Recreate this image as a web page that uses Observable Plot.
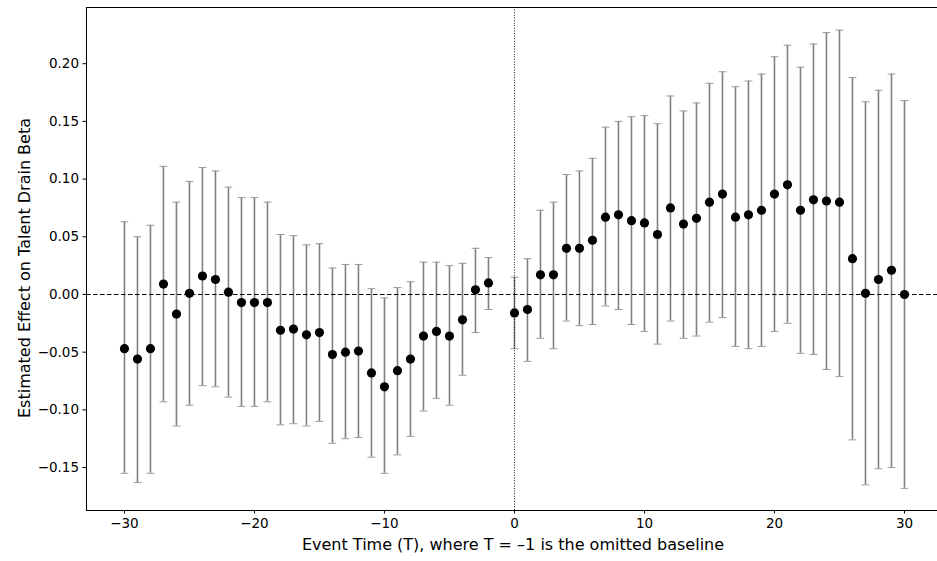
<!DOCTYPE html>
<html><head><meta charset="utf-8">
<script src="https://cdn.jsdelivr.net/npm/d3@7"></script>
<script src="https://cdn.jsdelivr.net/npm/@observablehq/plot@0.6"></script>
<style>body{margin:0;background:#fff;overflow:hidden}</style>
</head><body><div id="chart"></div>
<script>
const eventTime = [-30,-29,-28,-27,-26,-25,-24,-23,-22,-21,-20,-19,-18,-17,-16,-15,-14,-13,-12,-11,-10,-9,-8,-7,-6,-5,-4,-3,-2,
  0,1,2,3,4,5,6,7,8,9,10,11,12,13,14,15,16,17,18,19,20,21,22,23,24,25,26,27,28,29,30];
const estimate = [-0.047,-0.056,-0.047,0.009,-0.017,0.001,0.016,0.013,0.002,-0.007,-0.007,-0.007,-0.031,-0.030,-0.035,-0.033,-0.052,-0.050,-0.049,-0.068,-0.080,-0.066,-0.056,-0.036,-0.032,-0.036,-0.022,0.004,0.010,
  -0.016,-0.013,0.017,0.017,0.040,0.040,0.047,0.067,0.069,0.064,0.062,0.052,0.075,0.061,0.066,0.080,0.087,0.067,0.069,0.073,0.087,0.095,0.073,0.082,0.081,0.080,0.031,0.001,0.013,0.021,0.000];
const ciLow = [-0.155,-0.163,-0.155,-0.093,-0.114,-0.096,-0.079,-0.080,-0.089,-0.097,-0.097,-0.093,-0.113,-0.112,-0.114,-0.110,-0.129,-0.125,-0.124,-0.141,-0.155,-0.139,-0.123,-0.101,-0.090,-0.096,-0.070,-0.033,-0.013,
  -0.047,-0.058,-0.038,-0.047,-0.023,-0.027,-0.026,-0.010,-0.013,-0.026,-0.032,-0.043,-0.023,-0.038,-0.036,-0.024,-0.020,-0.045,-0.047,-0.045,-0.032,-0.025,-0.051,-0.052,-0.065,-0.071,-0.126,-0.165,-0.151,-0.150,-0.168];
const ciHigh = [0.063,0.050,0.060,0.111,0.080,0.098,0.110,0.107,0.093,0.084,0.084,0.080,0.052,0.051,0.043,0.044,0.023,0.026,0.026,0.005,-0.003,0.006,0.011,0.028,0.028,0.025,0.027,0.040,0.032,
  0.015,0.031,0.073,0.080,0.104,0.107,0.118,0.145,0.150,0.154,0.155,0.148,0.172,0.159,0.166,0.183,0.193,0.180,0.185,0.191,0.206,0.216,0.197,0.217,0.227,0.229,0.188,0.167,0.177,0.191,0.168];
const xTicks = [-30,-20,-10,0,10,20,30];
const yTicks = [-0.15,-0.10,-0.05,0,0.05,0.10,0.15,0.20];
const xLabel = "Event Time (T), where T = \u20131 is the omitted baseline";
const yLabel = "Estimated Effect on Talent Drain Beta";

const data = eventTime.map((t,i)=>({t, est: estimate[i], lo: ciLow[i], hi: ciHigh[i]}));
const xDomain = [-32.92, 32.54], yDomain = [-0.1872, 0.2487];
const capHalf = 0.3;

const chart = Plot.plot({
  width: 937, height: 561, marginLeft: 86, marginRight: 0, marginTop: 7, marginBottom: 51,
  style: {fontFamily: "DejaVu Sans", fontSize: "13.5px", background: "#fff", color: "#000"},
  x: {domain: xDomain}, y: {domain: yDomain},
  marks: [
    Plot.ruleX(data, {x: "t", y1: "lo", y2: "hi", stroke: "#808080", strokeWidth: 1.6}),
    Plot.link(data, {x1: d => d.t - capHalf, x2: d => d.t + capHalf, y1: "hi", y2: "hi", stroke: "#9a9a9a", strokeWidth: 1}),
    Plot.link(data, {x1: d => d.t - capHalf, x2: d => d.t + capHalf, y1: "lo", y2: "lo", stroke: "#9a9a9a", strokeWidth: 1}),
    Plot.ruleY([0], {stroke: "#000", strokeWidth: 1.2, strokeDasharray: "4.5,2.5"}),
    Plot.ruleX([0], {stroke: "#000", strokeWidth: 0.9, strokeDasharray: "1,1.6"}),
    Plot.dot(data, {x: "t", y: "est", r: 4.6, fill: "#000", stroke: "none"}),
    Plot.axisX({ticks: xTicks, tickFormat: d3.format("d"), tickSize: 3.5, tickPadding: 4, label: null}),
    Plot.axisY({ticks: yTicks, tickFormat: d3.format(".2f"), tickSize: 3.5, tickPadding: 4, label: null}),
    Plot.ruleX([xDomain[0]], {stroke: "#000", strokeWidth: 1}),
    Plot.ruleY([yDomain[0], yDomain[1]], {stroke: "#000", strokeWidth: 1})
  ]
});
const svg = d3.select(chart);
svg.append("text").attr("x", 513).attr("y", 550).attr("text-anchor", "middle")
  .attr("font-size", 16).attr("font-family", "DejaVu Sans").attr("fill", "#000").text(xLabel);
svg.append("text").attr("transform", "translate(30,268) rotate(-90)").attr("text-anchor", "middle")
  .attr("font-size", 16).attr("font-family", "DejaVu Sans").attr("fill", "#000").text(yLabel);
document.getElementById("chart").appendChild(chart);
</script>
</body></html>
